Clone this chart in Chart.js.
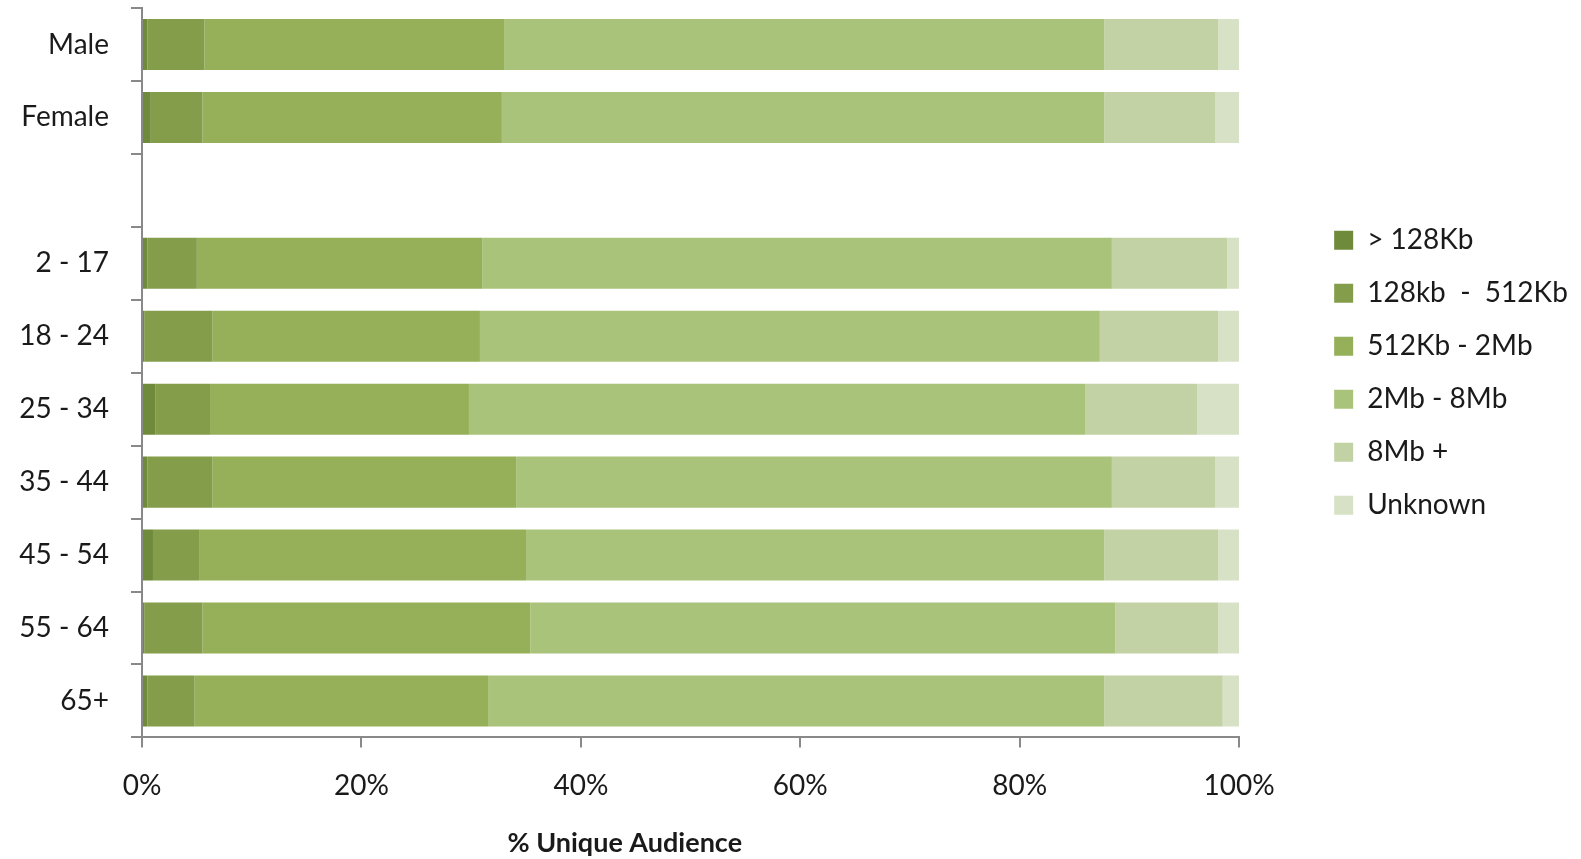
<!DOCTYPE html>
<html lang="en">
<head>
    <meta charset="UTF-8">
    <title>Connection Speed by Audience</title>
    <script src="https://cdn.jsdelivr.net/npm/chart.js"></script>
    <style>
        html, body { margin: 0; padding: 0; background: #fff; }
        #wrap { width: 1581px; height: 859px; position: relative; }
    </style>
</head>
<body>
    <div id="wrap"><canvas id="speedChart"></canvas></div>

    <script>
        // audience groups (the empty entry is the gap between gender and age groups)
        const categories = ['Male', 'Female', '', '2 - 17', '18 - 24', '25 - 34', '35 - 44', '45 - 54', '55 - 64', '65+'];

        // share of unique audience per connection speed band, in %
        const below128Kb = [0.5, 0.8, null, 0.5, 0.2, 1.2, 0.5, 1.0, 0.2, 0.5];
        const kb128to512 = [5.2, 4.7, null, 4.5, 6.2, 5.0, 5.9, 4.2, 5.3, 4.3];
        const kb512to2Mb = [27.3, 27.3, null, 26.0, 24.4, 23.6, 27.7, 29.8, 29.9, 26.8];
        const mb2to8 = [54.7, 54.9, null, 57.4, 56.5, 56.2, 54.3, 52.7, 53.3, 56.1];
        const mb8plus = [10.4, 10.1, null, 10.5, 10.8, 10.2, 9.4, 10.4, 9.4, 10.8];
        const unknown = [1.9, 2.2, null, 1.1, 1.9, 3.8, 2.2, 1.9, 1.9, 1.5];

        const xTicks = [0, 20, 40, 60, 80, 100];

        const seriesNames = ['> 128Kb', '128kb  -  512Kb', '512Kb - 2Mb', '2Mb - 8Mb', '8Mb +', 'Unknown'];
        const seriesData = [below128Kb, kb128to512, kb512to2Mb, mb2to8, mb8plus, unknown];
        const seriesColors = ['#6f8a3a', '#849d4b', '#95b058', '#aac37b', '#c2d2a5', '#d7e1c5'];

        const fontFamily = 'Lato, "Open Sans", sans-serif';
        const fontSize = 28;
        const axisGray = '#898989';

        // axis title sits left of the plot centre, so it is drawn by hand
        const axisTitle = {
            id: 'axisTitle',
            afterDraw(chart) {
                const ctx = chart.ctx;
                const xs = chart.scales.x;
                ctx.save();
                ctx.font = 'bold 27px ' + fontFamily;
                ctx.fillStyle = '#1a1a1a';
                ctx.textAlign = 'center';
                ctx.textBaseline = 'middle';
                ctx.fillText('% Unique Audience', xs.getPixelForValue(44), 843);
                ctx.restore();
            }
        };

        new Chart(document.getElementById('speedChart'), {
            type: 'bar',
            data: {
                labels: categories,
                datasets: seriesNames.map((name, i) => ({
                    label: name,
                    data: seriesData[i],
                    backgroundColor: seriesColors[i],
                    borderWidth: 0,
                    categoryPercentage: 1,
                    barPercentage: 0.7
                }))
            },
            options: {
                indexAxis: 'y',
                responsive: true,
                maintainAspectRatio: false,
                animation: false,
                layout: { padding: { top: 8, right: 10, bottom: 34, left: 0 } },
                plugins: {
                    tooltip: { enabled: false },
                    legend: {
                        position: 'right',
                        fullSize: false,
                        align: 'center',
                        labels: {
                            boxWidth: 19,
                            boxHeight: 19,
                            padding: 25,
                            color: '#1a1a1a',
                            font: { family: fontFamily, size: fontSize }
                        }
                    }
                },
                scales: {
                    x: {
                        stacked: true,
                        min: 0,
                        max: 100,
                        afterBuildTicks: s => { s.ticks = xTicks.map(v => ({ value: v })); },
                        ticks: {
                            padding: 22,
                            color: '#1a1a1a',
                            font: { family: fontFamily, size: fontSize },
                            callback: v => v + '%'
                        },
                        grid: { drawOnChartArea: false, drawTicks: true, tickLength: 10, color: axisGray, lineWidth: 2 },
                        border: { display: true, color: axisGray, width: 2 }
                    },
                    y: {
                        stacked: true,
                        afterFit: s => {
                            s.width = 142;
                            s.paddingTop = 0;
                            s.paddingBottom = 0;
                        },
                        ticks: {
                            padding: 22,
                            color: '#1a1a1a',
                            font: { family: fontFamily, size: fontSize }
                        },
                        grid: { drawOnChartArea: false, drawTicks: true, tickLength: 11, color: axisGray, lineWidth: 2 },
                        border: { display: true, color: axisGray, width: 2 }
                    },
                    // empty spacer between plot and legend
                    gap: {
                        axis: 'y',
                        type: 'linear',
                        position: 'right',
                        ticks: { display: false },
                        grid: { display: false },
                        border: { display: false },
                        afterFit: s => {
                            s.width = 70;
                            s.paddingTop = 0;
                            s.paddingBottom = 0;
                        }
                    }
                }
            },
            plugins: [axisTitle]
        });
    </script>
</body>
</html>
